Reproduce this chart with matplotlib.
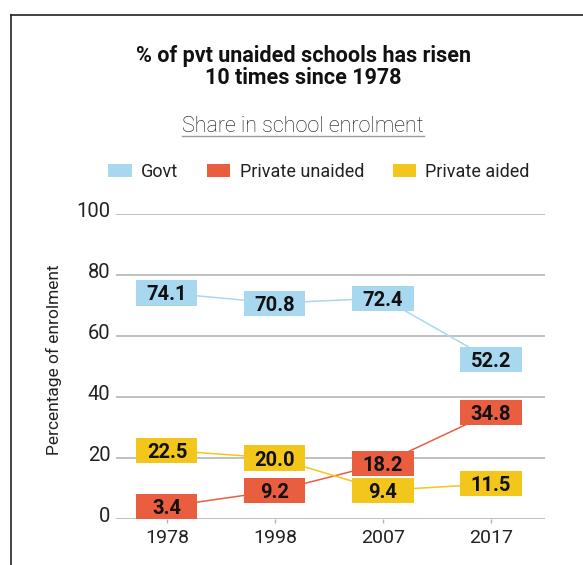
import matplotlib
matplotlib.use("Agg")
import matplotlib.pyplot as plt
from matplotlib.patches import Rectangle, Patch
from matplotlib.lines import Line2D
from matplotlib.transforms import ScaledTranslation
import numpy as np

years = ["1978", "1998", "2007", "2017"]
govt = [74.1, 70.8, 72.4, 52.2]
pvt_unaided = [3.4, 9.2, 18.2, 34.8]
pvt_aided = [22.5, 20.0, 9.4, 11.5]

series = [("Govt", govt, "#a8d8f0"),
          ("Private unaided", pvt_unaided, "#ea5e40"),
          ("Private aided", pvt_aided, "#f3c61c")]

W, H = 583, 565
fig = plt.figure(figsize=(W / 100, H / 100), dpi=100)
fig.patch.set_facecolor("white")

ax = fig.add_axes([116 / W, 1 - 519 / H, (545 - 116) / W, (519 - 214) / H])
ax.set_xlim(-0.472, 3.5)
ax.set_ylim(0, 100)
for s in ax.spines.values():
    s.set_visible(False)

for v in range(0, 101, 20):
    ax.axhline(v, color="#b5b5b5", lw=1.2, zorder=1)

x = np.arange(len(years))
ax.set_xticks(x)
ax.set_xticklabels(years)
ax.set_yticks(range(0, 101, 20))
ax.tick_params(axis="x", length=3, width=1, color="#b5b5b5", pad=4,
               labelsize=14, labelcolor="#222222")
ax.tick_params(axis="y", length=0, pad=4, labelsize=14.5, labelcolor="#222222")
for lab in ax.get_xticklabels() + ax.get_yticklabels():
    lab.set_fontfamily("Roboto")
for lab in ax.get_yticklabels():
    lab.set_va("center_baseline")
    lab.set_transform(lab.get_transform() + ScaledTranslation(0, 3 / 72, fig.dpi_scale_trans))

# box size in data units (about 61 x 25 px)
bw = 0.565
bh = 8.2
for name, vals, col in series:
    ax.plot(x, [max(v, bh / 2) for v in vals], color=col, lw=1.1, zorder=2)
    for i, v in enumerate(vals):
        yc = max(v, bh / 2)
        ax.add_patch(Rectangle((i - bw / 2, yc - bh / 2), bw, bh, facecolor=col,
                               edgecolor="none", zorder=3, clip_on=False))
        ax.text(i, yc, f"{v:.1f}", ha="center", va="center_baseline", fontsize=14.5,
                fontweight="bold", family="Roboto", color="#111111", zorder=4)

fig.text(54 / W, 1 - 360 / H, "Percentage of enrolment", rotation=90, ha="center",
         va="center", fontsize=12.5, family="Roboto", color="#222222")

# titles
fig.text(303 / W, 1 - 62 / H, "% of pvt unaided schools has risen", ha="center",
         va="baseline", fontsize=15.5, fontweight="bold", family="Roboto", color="#111111")
fig.text(303 / W, 1 - 84 / H, "10 times since 1978", ha="center",
         va="baseline", fontsize=15.5, fontweight="bold", family="Roboto", color="#111111")
sub = fig.text(303 / W, 1 - 132 / H, "Share in school enrolment", ha="center",
               va="baseline", fontsize=15.5, family="Roboto", fontweight="light",
               color="#111111")
fig.canvas.draw()
bb = sub.get_window_extent().transformed(fig.transFigure.inverted())
fig.add_artist(Line2D([bb.x0, bb.x1], [1 - 136 / H] * 2, transform=fig.transFigure,
                      color="#9a9a9a", lw=1))

handles = [Patch(facecolor=c, edgecolor="none", label=n) for n, _, c in series]
leg = fig.legend(handles=handles, loc="center", bbox_to_anchor=(319 / W, 1 - 172 / H),
                 ncol=3, frameon=False, fontsize=13, handlelength=1.3,
                 handleheight=0.75, handletextpad=0.5, columnspacing=1.6, borderpad=0)
for t in leg.get_texts():
    t.set_fontfamily("Roboto")
    t.set_color("#222222")

# frame lines (top and left)
fig.add_artist(Line2D([11 / W, 1], [1 - 14.5 / H] * 2, transform=fig.transFigure,
                      color="#222222", lw=1.2))
fig.add_artist(Line2D([11 / W] * 2, [0, 1 - 14.5 / H], transform=fig.transFigure,
                      color="#222222", lw=1.2))

fig.savefig("out.png", dpi=100)
